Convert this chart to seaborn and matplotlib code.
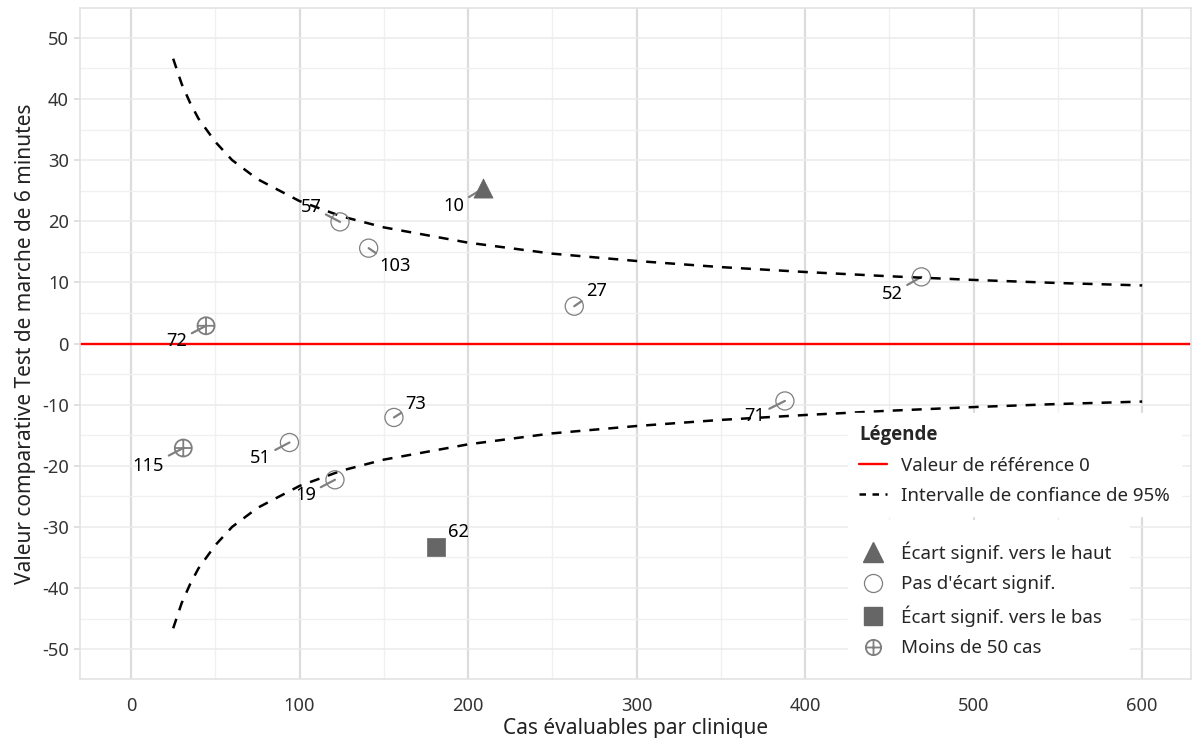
import matplotlib
matplotlib.use("Agg")
import matplotlib.pyplot as plt
from matplotlib.lines import Line2D
from matplotlib.patches import Rectangle
from matplotlib.path import Path
from matplotlib.markers import MarkerStyle
import pandas as pd
import seaborn as sns

# Données
clinic_ids = ["10", "57", "103", "27", "52", "72", "73", "71", "51", "115", "19", "62"]
cases = [209, 124, 141, 263, 469, 44.5, 156, 388, 94, 31, 121, 181]
values = [25.4, 19.9, 15.6, 6.1, 10.9, 2.9, -12.1, -9.4, -16.2, -17.1, -22.3, -33.3]
category = ["haut", "pas", "pas", "pas", "pas", "moins50", "pas", "pas", "pas", "moins50", "pas", "bas"]

# Bornes de l'intervalle de confiance (lecture des courbes en pointillés)
ci_x = [25, 30, 35, 40, 50, 60, 75, 100, 125, 150, 200, 250, 300, 350, 400, 450, 500, 550, 600]
ci_upper = [46.6, 42.5, 39.4, 36.8, 33.0, 30.0, 26.9, 23.3, 20.8, 19.0, 16.5, 14.7, 13.5, 12.5, 11.7, 11.0, 10.4, 9.9, 9.5]
ci_lower = [-46.6, -42.5, -39.4, -36.8, -33.0, -30.0, -26.9, -23.3, -20.8, -19.0, -16.5, -14.7, -13.5, -12.5, -11.7, -11.0, -10.4, -9.9, -9.5]

x_ticks = [0, 100, 200, 300, 400, 500, 600]
y_ticks = [-50, -40, -30, -20, -10, 0, 10, 20, 30, 40, 50]

# Décalage des étiquettes (points typographiques), à la façon de ggrepel
LABEL_OFFSETS = {
    "10": (-21, -13), "57": (-21, 11), "103": (19, -13), "27": (16, 11),
    "52": (-21, -12), "72": (-21, -11), "73": (16, 10), "71": (-22, -11),
    "51": (-21, -11), "115": (-25, -13), "19": (-21, -11), "62": (16, 11),
}

df = pd.DataFrame({"clinic": clinic_ids, "cases": cases, "value": values, "cat": category})
ci_df = pd.DataFrame({"x": ci_x, "upper": ci_upper, "lower": ci_lower})

sns.set_theme(style="whitegrid")
plt.rcParams["font.family"] = ["Noto Sans", "DejaVu Sans"]

GREY_FILL = "#666666"
GREY_EDGE = "#7f7f7f"
DASH = (0, (4.0, 3.6))

crossed = Path.make_compound_path(
    Path.unit_circle(),
    Path([(-1, 0), (1, 0)], [Path.MOVETO, Path.LINETO]),
    Path([(0, -1), (0, 1)], [Path.MOVETO, Path.LINETO]),
)
crossed_marker = MarkerStyle(crossed)

fig = plt.figure(figsize=(11.92, 7.38), dpi=100)
ax = fig.add_axes([0.0671, 0.0799, 0.9321, 0.9093])

ax.axhline(0, color="red", lw=1.7, zorder=2)
sns.lineplot(data=ci_df, x="x", y="upper", ax=ax, color="black", lw=1.8,
             linestyle=DASH, zorder=3)
sns.lineplot(data=ci_df, x="x", y="lower", ax=ax, color="black", lw=1.8,
             linestyle=DASH, zorder=3)

sub = df[df["cat"] == "haut"]
sns.scatterplot(data=sub, x="cases", y="value", ax=ax, marker="^", s=190,
                color=GREY_FILL, edgecolor=GREY_FILL, linewidth=0.5, zorder=4)
sub = df[df["cat"] == "bas"]
sns.scatterplot(data=sub, x="cases", y="value", ax=ax, marker="s", s=150,
                color=GREY_FILL, edgecolor=GREY_FILL, linewidth=0.5, zorder=4)
sub = df[df["cat"] == "pas"]
ax.scatter(sub["cases"], sub["value"], marker="o", s=170, facecolors="none",
           edgecolors=GREY_EDGE, linewidths=0.9, zorder=4)
sub = df[df["cat"] == "moins50"]
ax.scatter(sub["cases"], sub["value"], marker=crossed_marker, s=150, facecolors="none",
           edgecolors=GREY_EDGE, linewidths=1.3, zorder=4)

for _, row in df.iterrows():
    ax.annotate(row["clinic"], xy=(row["cases"], row["value"]),
                xytext=LABEL_OFFSETS[row["clinic"]], textcoords="offset points",
                ha="center", va="center", fontsize=13.2, color="black", zorder=2.5,
                arrowprops=dict(arrowstyle="-", color="#808080", lw=1.6,
                                shrinkA=1, shrinkB=0))

ax.set_xlim(-30.3, 629)
ax.set_ylim(-54.9, 54.9)
ax.set_xticks(x_ticks)
ax.set_yticks(y_ticks)
ax.set_xticks([50, 150, 250, 350, 450, 550], minor=True)
ax.set_yticks([-45, -35, -25, -15, -5, 5, 15, 25, 35, 45], minor=True)
ax.set_yticklabels([str(v) for v in y_ticks])

ax.grid(which="major", axis="x", color="#dcdcdc", lw=1.6)
ax.grid(which="minor", axis="x", color="#f0f0f0", lw=1.0)
ax.grid(which="major", axis="y", color="#ebebeb", lw=1.1)
ax.grid(which="minor", axis="y", color="#f0f0f0", lw=1.0)
ax.set_axisbelow(True)
for spine in ax.spines.values():
    spine.set_color("#e3e3e3")
    spine.set_linewidth(1.2)
    spine.set_zorder(7)

ax.tick_params(axis="y", which="major", left=True, length=4, color="#dcdcdc",
               labelsize=13.2, labelcolor="#333333", pad=4)
ax.tick_params(axis="y", which="minor", left=False)
ax.tick_params(axis="x", which="both", bottom=False, labelsize=13.2,
               labelcolor="#333333", pad=7)

ax.set_xlabel("Cas évaluables par clinique", fontsize=15, color="#222222", labelpad=2)
ax.set_ylabel("Valeur comparative Test de marche de 6 minutes", fontsize=15,
              color="#222222", labelpad=4)

# fond blanc du bloc légende des formes (jusqu'au bas du panneau)
ax.add_patch(Rectangle((0.691, 0.0), 0.254, 0.237, transform=ax.transAxes,
                       facecolor="white", edgecolor="none", zorder=5.5))

line_handles = [
    Line2D([], [], color="red", lw=1.7),
    Line2D([], [], color="black", lw=1.8, linestyle=(0, (2.6, 2.6))),
]
leg1 = ax.legend(line_handles, ["Valeur de référence 0", "Intervalle de confiance de 95%"],
                 title="Légende", loc="upper left", bbox_to_anchor=(0.691, 0.396),
                 frameon=True, facecolor="white", edgecolor="white", framealpha=1,
                 fancybox=False, fontsize=13.5, alignment="left",
                 title_fontproperties={"family": ["Open Sans", "DejaVu Sans"],
                                       "weight": "bold", "size": 13.5},
                 handlelength=1.5, handletextpad=0.75, labelspacing=0.65,
                 borderpad=0.6, borderaxespad=0)
leg1.set_zorder(6)
ax.add_artist(leg1)

shape_handles = [
    Line2D([], [], marker="^", color=GREY_FILL, ls="none", markersize=14),
    Line2D([], [], marker="o", markerfacecolor="white", markeredgecolor=GREY_EDGE,
           markeredgewidth=0.9, ls="none", markersize=13),
    Line2D([], [], marker="s", color=GREY_FILL, ls="none", markersize=12.5),
    Line2D([], [], marker=crossed_marker, markerfacecolor="none", markeredgecolor=GREY_EDGE,
           markeredgewidth=1.3, ls="none", markersize=11),
]
leg2 = ax.legend(shape_handles, ["Écart signif. vers le haut", "Pas d'écart signif.",
                                 "Écart signif. vers le bas", "Moins de 50 cas"],
                 loc="upper left", bbox_to_anchor=(0.691, 0.222),
                 frameon=True, facecolor="white", edgecolor="white", framealpha=1,
                 fancybox=False, fontsize=13.5, handlelength=1.5, handletextpad=0.75,
                 labelspacing=0.66, borderpad=0.6, borderaxespad=0)
leg2.set_zorder(6)

fig.savefig("out.png", dpi=100)
